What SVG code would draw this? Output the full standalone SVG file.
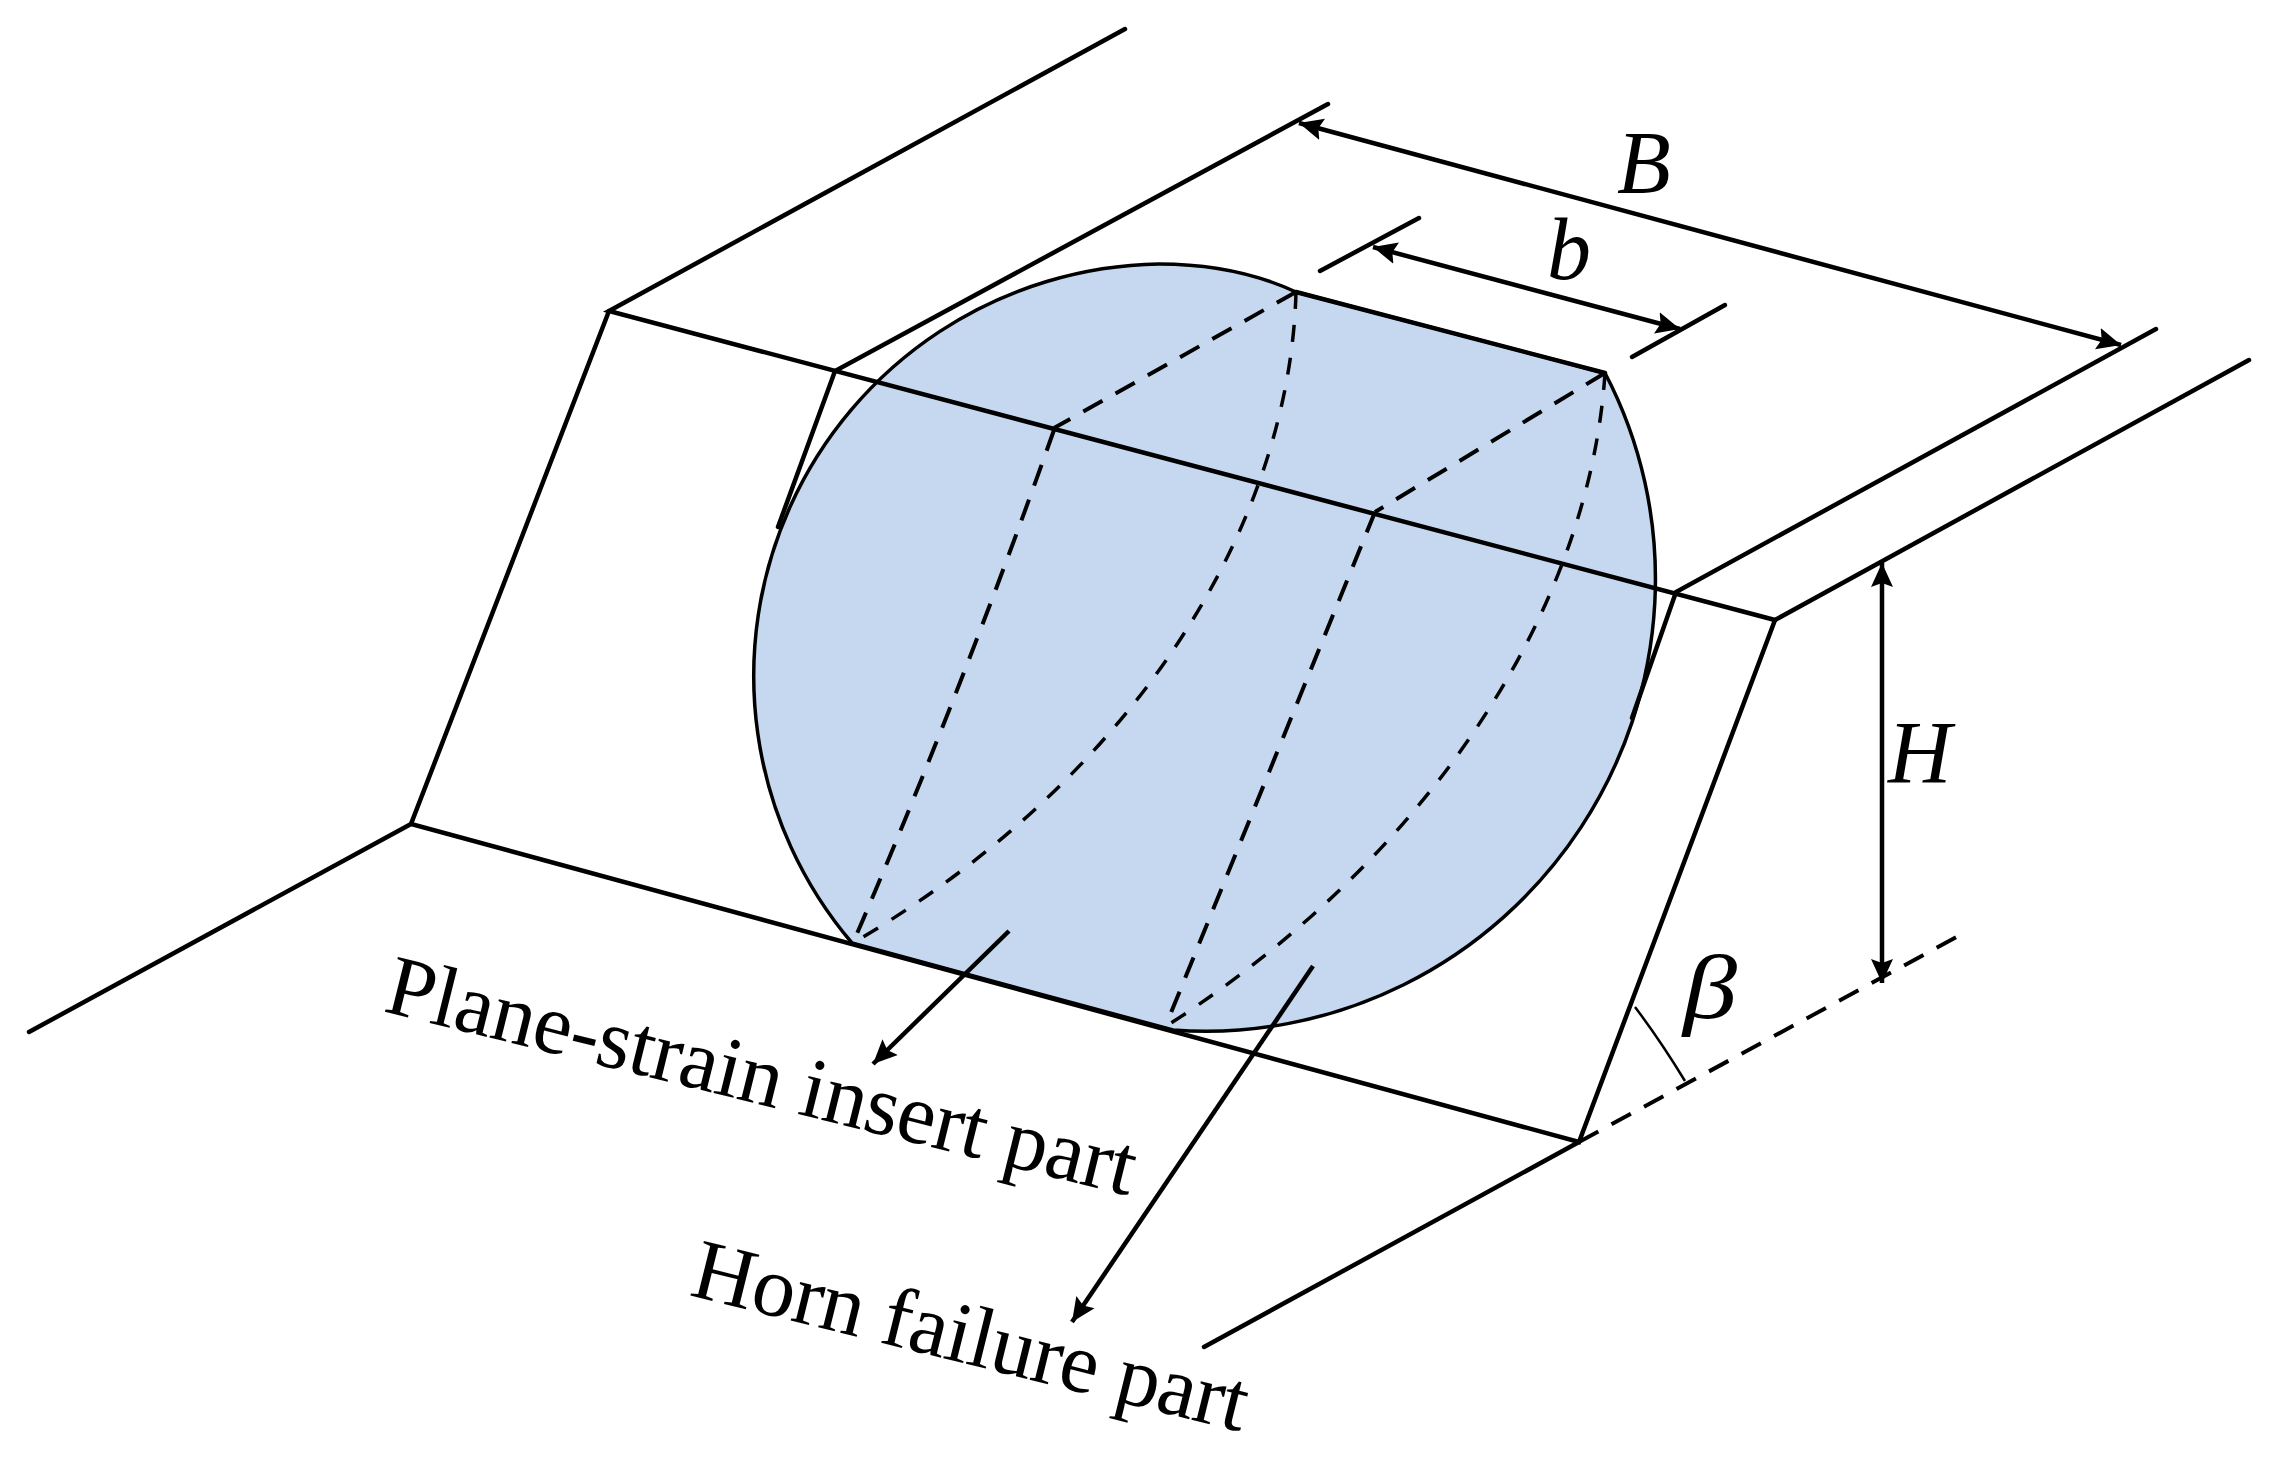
<svg xmlns="http://www.w3.org/2000/svg" width="2277" height="1459" viewBox="0 0 2277 1459">
<style>
.l{fill:none;stroke:#000;stroke-width:4.5;stroke-linecap:round;stroke-linejoin:miter}
.t{fill:none;stroke:#000;stroke-width:2.5}
.d{fill:none;stroke:#000;stroke-width:4;stroke-dasharray:22 15}
.c{fill:none;stroke:#000;stroke-width:3.5;stroke-dasharray:17 16}
.a{fill:none;stroke:#000;stroke-width:4.5;marker-end:url(#arr)}
.aa{fill:none;stroke:#000;stroke-width:4.5;marker-start:url(#arrs);marker-end:url(#arr)}
text{font-family:"Liberation Serif","Times New Roman",serif;fill:#000}
.lab{font-size:86px}
.sym{font-size:88px;font-style:italic}
</style>
<defs>
<marker id="arr" markerUnits="userSpaceOnUse" markerWidth="26" markerHeight="24" refX="24" refY="12" orient="auto"><path d="M0 1L24 12L0 23L4 12Z" fill="#000"/></marker>
<marker id="arrs" markerUnits="userSpaceOnUse" markerWidth="26" markerHeight="24" refX="2" refY="12" orient="auto"><path d="M26 1L2 12L26 23L22 12Z" fill="#000"/></marker>
</defs>
<rect width="2277" height="1459" fill="#fff"/>
<g id="failure-surface">
<path d="M1296 292L1605 373A441 448 33 0 1 1173 1030L852 943A412 412 0 0 1 1159 264C1210 264 1255 273 1296 292Z" fill="#c6d8f0" stroke="#000" stroke-width="3.5"/>
</g>
<g id="slope">
<path class="l" d="M1125 29L609 311L1775 620L2249 360"/>
<path class="l" d="M1328 104L835 371L778 527"/>
<path class="l" d="M2156 329L1676 592L1632 718"/>
<path class="l" d="M609 311L411 824L1579 1142L1775 620"/>
<path class="l" d="M411 824L29 1032"/>
<path class="l" d="M1579 1142L1204 1347"/>
<path class="l" d="M1296 292L1605 373"/>
<path class="d" d="M1579 1142L1962 934"/>
</g>
<g id="dashed-mechanism">
<path class="d" d="M1296 292L1054 428"/>
<path class="d" d="M1605 373L1375 512"/>
<path class="d" d="M1054 430Q962 690 853 943"/>
<path class="d" d="M1375 512L1166 1025"/>
<path class="c" d="M1296 292C1290 520 1140 775 853 943"/>
<path class="c" d="M1605 373C1590 604 1435 854 1165 1027"/>
</g>
<g id="connectors">
<path class="aa" d="M1299 123L2121 345"/>
<path class="aa" d="M1373 247L1680 329"/>
<path class="l" d="M1320 271L1419 218"/>
<path class="l" d="M1632 357L1725 305"/>
<path class="aa" d="M1882 563L1882 983"/>
<path class="a" d="M1009 931L873 1064"/>
<path class="a" d="M1313 966L1072 1322"/>
<path class="t" d="M1635 1007Q1660 1040 1685 1081"/>
</g>
<g id="labels">
<text class="sym" x="1617" y="192">B</text>
<text class="sym" x="1547" y="279">b</text>
<text class="sym" x="1888" y="782">H</text>
<text class="sym" x="1683" y="1018" style="font-size:92px" textLength="54" lengthAdjust="spacingAndGlyphs">β</text>
<text class="lab" transform="translate(382 1011) rotate(13.9)" textLength="769">Plane-strain insert part</text>
<text class="lab" transform="translate(688 1295) rotate(13.9)" textLength="569">Horn failure part</text>
</g>
</svg>
